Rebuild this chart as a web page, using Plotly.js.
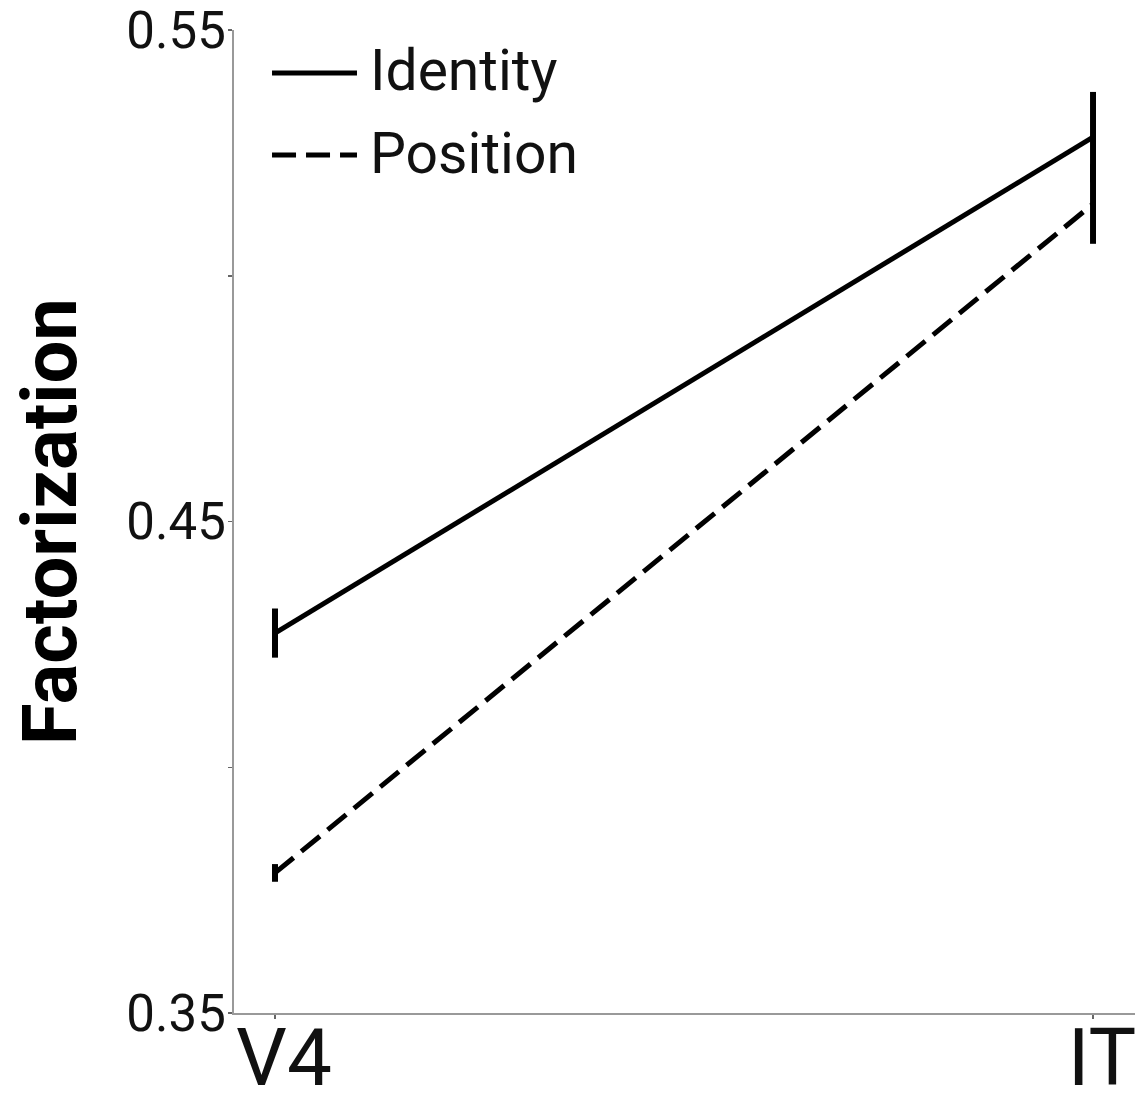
<!DOCTYPE html>
<html>
<head>
<meta charset="utf-8">
<script src="https://cdn.plot.ly/plotly-3.0.1.min.js"></script>
<style>
  html, body { margin: 0; padding: 0; background: #ffffff; }
  #chart { width: 1140px; height: 1093px; }
</style>
</head>
<body>
<div id="chart"></div>
<script>
// Visual areas along the ventral stream
const areas = ['V4', 'IT'];

// Mean factorization scores and their error half-widths
const identityMean = [0.4273, 0.5282];
const identityErr = [0.0050, 0.0092];
const positionMean = [0.3785, 0.5146];
const positionErr = [0.0018, 0.0081];

const seriesNames = ['Identity', 'Position'];
const seriesDash = ['solid', '24px,10px'];

// Y axis ticks (only every other tick is labelled)
const yTickVals = [0.35, 0.40, 0.45, 0.50, 0.55];
const yTickText = ['0.35', '', '0.45', '', '0.55'];

const FONT = 'Roboto, "Noto Sans", Arial, sans-serif';

function lineTrace(name, y, err, dash) {
  return {
    type: 'scatter',
    mode: 'lines',
    x: areas,
    y: y,
    name: name,
    line: { color: '#000000', width: 5, dash: dash },
    error_y: {
      type: 'data',
      array: err,
      visible: true,
      color: '#000000',
      thickness: 6,
      width: 0
    },
    showlegend: false,
    hoverinfo: 'x+y'
  };
}

const data = [
  lineTrace(seriesNames[0], identityMean, identityErr, seriesDash[0]),
  lineTrace(seriesNames[1], positionMean, positionErr, seriesDash[1])
];

// Hand-built legend: long line samples with labels beside them
const legendRows = [0.9563, 0.8728];
const legendShapes = seriesNames.map((n, i) => ({
  type: 'line',
  xref: 'paper', yref: 'paper',
  x0: 0.0422, x1: 0.1365,
  y0: legendRows[i], y1: legendRows[i],
  line: { color: '#000000', width: 5, dash: seriesDash[i] }
}));
const legendLabels = seriesNames.map((n, i) => ({
  xref: 'paper', yref: 'paper',
  x: 0.1490, y: legendRows[i] + 0.002,
  xanchor: 'left', yanchor: 'middle',
  text: n,
  showarrow: false,
  font: { family: FONT, size: 57, color: '#111111' }
}));

const layout = {
  width: 1140,
  height: 1093,
  margin: { l: 234, r: 5, t: 30, b: 80 },
  paper_bgcolor: '#ffffff',
  plot_bgcolor: '#ffffff',
  showlegend: false,
  font: { family: FONT, color: '#111111' },
  xaxis: {
    type: 'category',
    range: [-0.0501, 1.0513],
    showgrid: false,
    zeroline: false,
    showline: true,
    linecolor: '#999999',
    linewidth: 2,
    ticks: 'outside',
    ticklen: 4,
    tickwidth: 2,
    tickcolor: '#666666',
    ticklabelshift: 9,
    ticklabelstandoff: -30,
    tickfont: { family: FONT, size: 80, color: '#111111' }
  },
  yaxis: {
    range: [0.35, 0.55],
    tickmode: 'array',
    tickvals: yTickVals,
    ticktext: yTickText,
    showgrid: false,
    zeroline: false,
    showline: true,
    linecolor: '#999999',
    linewidth: 2,
    ticks: 'outside',
    ticklen: 4,
    tickwidth: 1.5,
    tickcolor: '#666666',
    ticklabelstandoff: -8,
    tickfont: { family: FONT, size: 51, color: '#111111' },
    title: {
      text: 'Factorization',
      font: { family: FONT, size: 76, color: '#000000', weight: 'bold' },
      standoff: 25
    }
  },
  shapes: legendShapes,
  annotations: legendLabels
};

Plotly.newPlot('chart', data, layout, { displayModeBar: false, staticPlot: true });
</script>
</body>
</html>
